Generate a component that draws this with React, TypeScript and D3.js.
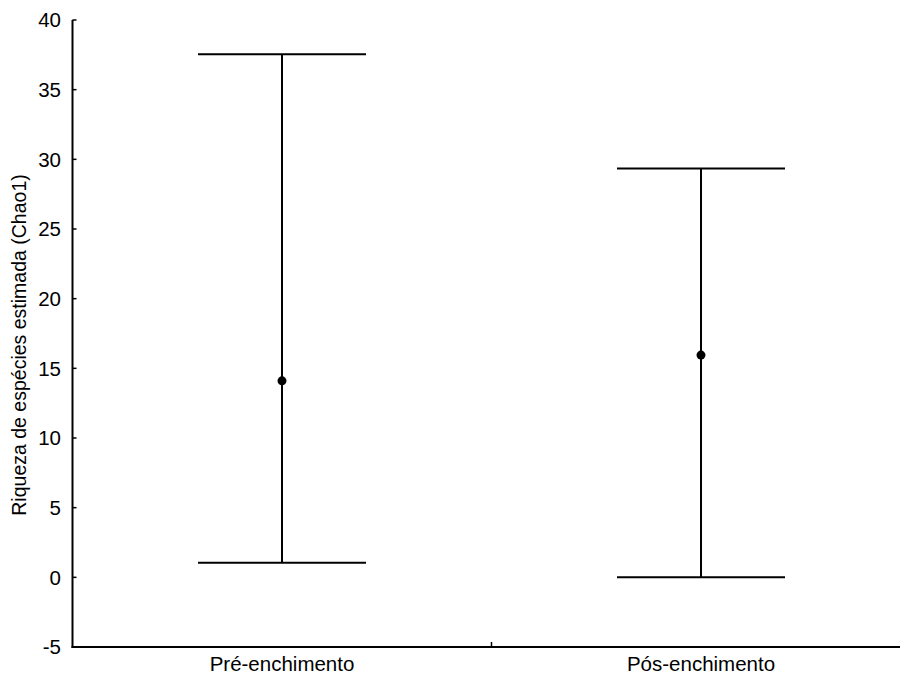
import React from "react";
import * as d3 from "d3";

const categories = ["Pré-enchimento", "Pós-enchimento"];
const means = [14.1, 15.95];
const upper = [37.55, 29.35];
const lower = [1.05, 0];
const yTicks = [-5, 0, 5, 10, 15, 20, 25, 30, 35, 40];

export default function App() {
  const W = 900, H = 678;
  const left = 72.5, right = 910.5, top = 20, bottom = 647;
  const y = d3.scaleLinear().domain([-5, 40]).range([bottom, top]);
  const x = d3.scaleBand().domain(categories).range([left, right]);
  const capHalf = 84;
  const font = "'Liberation Sans', Arial, sans-serif";
  return (
    <svg width={W} height={H} style={{ position: "absolute", left: 0, top: 0, background: "#fff" }}>
      {/* y axis */}
      <line x1={left} x2={left} y1={top} y2={bottom + 1} stroke="#000" strokeWidth={2} />
      {yTicks.map((t) => (
        <g key={t}>
          <line x1={left} x2={left + 4} y1={y(t)} y2={y(t)} stroke="#000" strokeWidth={1.5} />
          <text x={61} y={y(t)} dy="0.36em" textAnchor="end" fontFamily={font} fontSize={20.5} fill="#000">
            {t}
          </text>
        </g>
      ))}
      {/* x axis */}
      <line x1={left - 1} x2={right} y1={bottom} y2={bottom} stroke="#000" strokeWidth={2} />
      <line x1={x(categories[1])!} x2={x(categories[1])!} y1={bottom} y2={bottom - 5} stroke="#000" strokeWidth={1.5} />
      {categories.map((c) => (
        <text key={c} x={x(c)! + x.bandwidth() / 2} y={671} textAnchor="middle" fontFamily={font} fontSize={20.5} fill="#000">
          {c}
        </text>
      ))}
      {/* error bars */}
      {categories.map((c, i) => {
        const cx = x(c)! + x.bandwidth() / 2;
        return (
          <g key={c}>
            <line x1={cx} x2={cx} y1={y(upper[i])} y2={y(lower[i])} stroke="#000" strokeWidth={2} />
            <line x1={cx - capHalf} x2={cx + capHalf} y1={y(upper[i])} y2={y(upper[i])} stroke="#000" strokeWidth={2} />
            <line x1={cx - capHalf} x2={cx + capHalf} y1={y(lower[i])} y2={y(lower[i])} stroke="#000" strokeWidth={2} />
            <circle cx={cx} cy={y(means[i])} r={4.5} fill="#000" />
          </g>
        );
      })}
      <text transform={`translate(26, 345) rotate(-90)`} textAnchor="middle" fontFamily={font} fontSize={19.5} fill="#000">
        Riqueza de espécies estimada (Chao1)
      </text>
    </svg>
  );
}
